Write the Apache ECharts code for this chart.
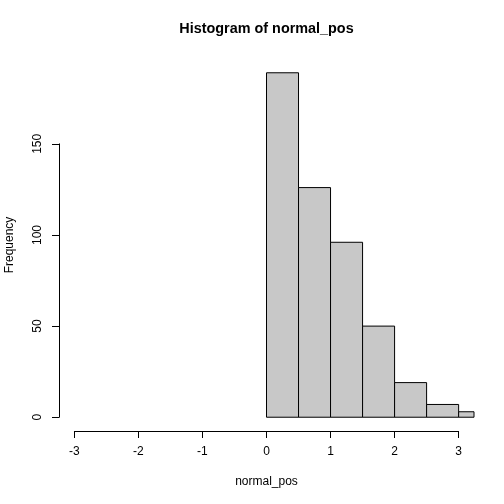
<!DOCTYPE html>
<html>
<head>
<meta charset="utf-8">
<script src="https://cdn.jsdelivr.net/npm/echarts@6/dist/echarts.min.js"></script>
<style>
  html, body { margin: 0; padding: 0; background: #fff; }
  #main { width: 504px; height: 504px; }
</style>
</head>
<body>
<div id="main"></div>
<script>
// histogram data
var binStarts = [0, 0.5, 1, 1.5, 2, 2.5, 3];
var binWidth = 0.5;
var counts = [189, 126, 96, 50, 19, 7, 3];
// axis ranges as in the R plot
var xlim = [-3, 3];
var ylim = [0, 189];
var xTickMax = 3, xTickMin = -3, xTickStep = 1;
var yTickMin = 0, yTickMax = 150, yTickStep = 50;

var font = 'Liberation Sans, Arial, Helvetica, sans-serif';
var chart = echarts.init(document.getElementById('main'));

// plot region (R default margins) and 4% axis extension
var box = {left: 59, right: 474, top: 59, bottom: 431};
function ext(l) { var d = (l[1] - l[0]) * 0.04; return [l[0] - d, l[1] + d]; }
var xr = ext(xlim), yr = ext(ylim);
function px(v) { return box.left + (v - xr[0]) / (xr[1] - xr[0]) * (box.right - box.left); }
function py(v) { return box.bottom - (v - yr[0]) / (yr[1] - yr[0]) * (box.bottom - box.top); }

var data = [];
for (var i = 0; i < binStarts.length; i++) {
    data.push([binStarts[i], binStarts[i] + binWidth, counts[i]]);
}

var hidden = {show: false};
var option = {
    backgroundColor: '#fff',
    animation: false,
    title: {
        text: 'Histogram of normal_pos',
        left: (box.left + box.right) / 2,
        textAlign: 'center',
        top: 22,
        padding: 0,
        textStyle: {fontFamily: font, fontSize: 14.4, fontWeight: 'bold', color: '#000'}
    },
    grid: [
        {left: box.left, top: box.top, width: box.right - box.left, height: box.bottom - box.top, outerBoundsMode: 'none'},
        {left: px(xTickMin), top: box.top, width: px(xTickMax) - px(xTickMin), height: box.bottom - box.top, outerBoundsMode: 'none'},
        {left: box.left, top: py(yTickMax), width: box.right - box.left, height: py(yTickMin) - py(yTickMax), outerBoundsMode: 'none'}
    ],
    xAxis: [
        {
            type: 'value', gridIndex: 0, min: xr[0], max: xr[1],
            axisLine: hidden, axisTick: hidden, axisLabel: hidden, splitLine: hidden,
            name: 'normal_pos', nameLocation: 'middle', nameGap: 45,
            nameTextStyle: {fontFamily: font, fontSize: 12, color: '#000'}
        },
        {
            type: 'value', gridIndex: 1, min: xTickMin, max: xTickMax, interval: xTickStep,
            axisLine: {show: true, lineStyle: {color: '#000', width: 1}},
            axisTick: {show: true, length: 7, lineStyle: {color: '#000', width: 1}},
            axisLabel: {show: true, margin: 15, fontFamily: font, fontSize: 12, color: '#000'},
            splitLine: hidden
        },
        {type: 'value', gridIndex: 2, show: false}
    ],
    yAxis: [
        {
            type: 'value', gridIndex: 0, min: yr[0], max: yr[1],
            axisLine: hidden, axisTick: hidden, axisLabel: hidden, splitLine: hidden,
            name: 'Frequency', nameLocation: 'middle', nameGap: 43, nameRotate: 90,
            nameTextStyle: {fontFamily: font, fontSize: 12, color: '#000'}
        },
        {type: 'value', gridIndex: 1, show: false},
        {
            type: 'value', gridIndex: 2, min: yTickMin, max: yTickMax, interval: yTickStep,
            axisLine: {show: true, lineStyle: {color: '#000', width: 1}},
            axisTick: {show: true, length: 7, lineStyle: {color: '#000', width: 1}},
            axisLabel: {show: true, rotate: 90, margin: 15, fontFamily: font, fontSize: 12, color: '#000'},
            splitLine: hidden
        }
    ],
    series: [{
        type: 'custom',
        xAxisIndex: 0,
        yAxisIndex: 0,
        data: data,
        encode: {x: [0, 1], y: 2},
        renderItem: function (params, api) {
            var p0 = api.coord([api.value(0), api.value(2)]);
            var p1 = api.coord([api.value(1), 0]);
            var rect = echarts.graphic.clipRectByRect(
                {x: p0[0], y: p0[1], width: p1[0] - p0[0], height: p1[1] - p0[1]},
                {x: params.coordSys.x, y: params.coordSys.y, width: params.coordSys.width, height: params.coordSys.height}
            );
            if (!rect) return;
            return {
                type: 'rect',
                shape: rect,
                style: {fill: '#C8C8C8', stroke: '#000', lineWidth: 1}
            };
        }
    }]
};
chart.setOption(option);
</script>
</body>
</html>
